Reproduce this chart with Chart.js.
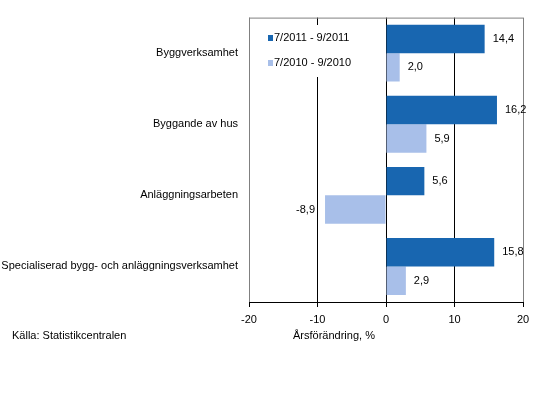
<!DOCTYPE html>
<html>
<head>
<meta charset="utf-8">
<script src="https://cdn.jsdelivr.net/npm/chart.js@4.4.0/dist/chart.umd.min.js"></script>
<style>
  html, body { margin: 0; padding: 0; background: #fff; }
  #wrap { width: 538px; height: 402px; position: relative; }
</style>
</head>
<body>
<div id="wrap"><canvas id="grafico" width="538" height="402"></canvas></div>
<script>
// === Dados ===
const kategorier = ["Byggverksamhet", "Byggande av hus", "Anläggningsarbeten", "Specialiserad bygg- och anläggningsverksamhet"];
const serie2011 = [14.4, 16.2, 5.6, 15.8];
const serie2010 = [2.0, 5.9, -8.9, 2.9];
const etiketter = ["7/2011 - 9/2011", "7/2010 - 9/2010"];
const xTicks = [-20, -10, 0, 10, 20];
const axelTitel = "Årsförändring, %";
const kalla = "Källa: Statistikcentralen";

const morkBla = "#1866b0";
const ljusBla = "#a8bfe9";

Chart.defaults.font.family = "'Liberation Sans', Arial, sans-serif";
Chart.defaults.font.size = 11;
Chart.defaults.color = "#000000";

// --- Rótulos de valor, legenda e textos extras ---
const extrasPlugin = {
    id: "extras",
    afterDatasetsDraw(chart) {
        const ctx = chart.ctx;
        const area = chart.chartArea;
        ctx.save();
        // borda superior cinza
        ctx.strokeStyle = "#808080";
        ctx.lineWidth = 1;
        ctx.beginPath();
        ctx.moveTo(area.left, area.top + 0.5);
        ctx.lineTo(area.right, area.top + 0.5);
        ctx.stroke();

        // valores nas barras
        ctx.font = "11px 'Liberation Sans', Arial, sans-serif";
        ctx.fillStyle = "#000";
        ctx.textBaseline = "middle";
        chart.data.datasets.forEach((ds, i) => {
            chart.getDatasetMeta(i).data.forEach((bar, j) => {
                const v = ds.data[j];
                const txt = v.toFixed(1).replace(".", ",");
                if (v >= 0) {
                    ctx.textAlign = "left";
                    ctx.fillText(txt, bar.x + 8, bar.y);
                } else {
                    ctx.textAlign = "right";
                    ctx.fillText(txt, bar.x - 10, bar.y);
                }
            });
        });

        // legenda dentro da área
        ctx.fillStyle = "#fff";
        ctx.fillRect(258, 25, 124, 52);
        const legY = [38, 63];
        chart.data.datasets.forEach((ds, i) => {
            ctx.fillStyle = ds.backgroundColor;
            ctx.fillRect(268, legY[i] - 3, 5, 6);
            ctx.fillStyle = "#000";
            ctx.textAlign = "left";
            ctx.fillText(ds.label, 274, legY[i]);
        });

        // título do eixo e fonte
        ctx.textAlign = "left";
        ctx.fillText(axelTitel, 293, 336);
        ctx.fillText(kalla, 12, 336);
        ctx.restore();
    }
};

const chart = new Chart(document.getElementById("grafico"), {
    type: "bar",
    data: {
        labels: kategorier,
        datasets: [
            { label: etiketter[0], data: serie2011, backgroundColor: morkBla },
            { label: etiketter[1], data: serie2010, backgroundColor: ljusBla }
        ]
    },
    options: {
        indexAxis: "y",
        responsive: false,
        animation: false,
        categoryPercentage: 0.8,
        barPercentage: 1.0,
        layout: { padding: { top: 17, right: 15, left: 0, bottom: 0 } },
        plugins: {
            legend: { display: false },
            tooltip: { enabled: false }
        },
        scales: {
            x: {
                min: -20,
                max: 20,
                afterBuildTicks: (scale) => { scale.ticks = xTicks.map(v => ({ value: v })); },
                afterFit: (scale) => { scale.height = 100; },
                ticks: { padding: 6, color: "#000", font: { size: 11 } },
                grid: {
                    color: (c) => (Math.abs(c.tick.value) === 20 ? "#808080" : "#000000"),
                    tickColor: "#000000",
                    tickLength: 5,
                    drawTicks: true
                },
                border: { display: true, color: "#000000" }
            },
            y: {
                afterFit: (scale) => { scale.width = 249; },
                ticks: { padding: 11, color: "#000", font: { size: 11 } },
                grid: { display: false, drawTicks: false },
                border: { display: false }
            }
        }
    },
    plugins: [extrasPlugin]
});
</script>
</body>
</html>
